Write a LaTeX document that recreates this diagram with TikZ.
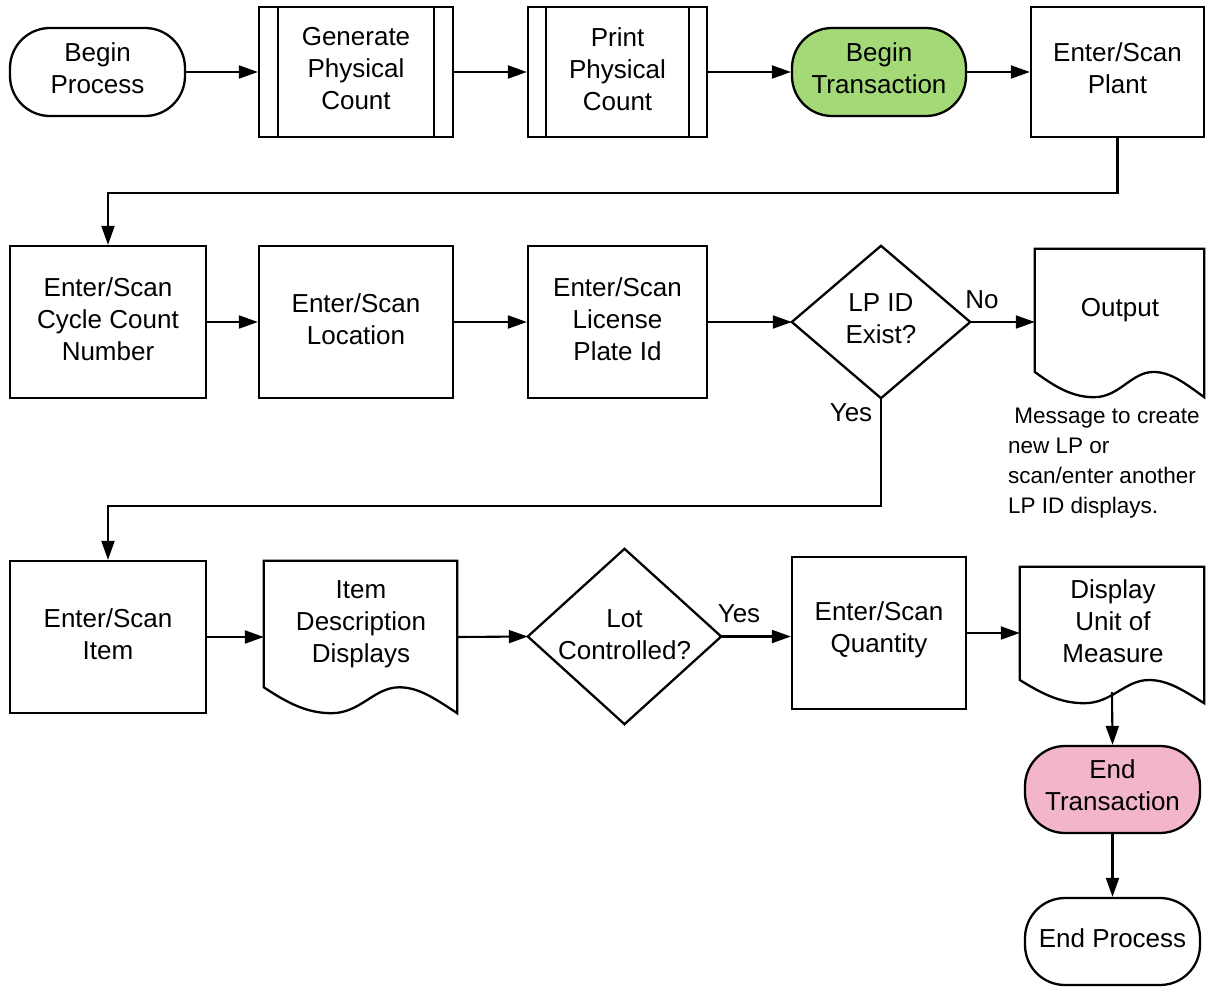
\documentclass[tikz,border=0pt]{standalone}
\usepackage{fontspec}
\setmainfont{Liberation Sans}
\usetikzlibrary{arrows.meta,calc}
\definecolor{startgreen}{HTML}{A3D977}
\definecolor{endpink}{HTML}{F3B5C8}
\newcommand\docoutline[1]{%
 \draw[shapeline] let \p1=(#1.north west), \p2=(#1.south east) in
 (\x1,{\y1+0.83*(\y2-\y1)}) -- (\x1,\y1) -- (\x2,\y1) -- (\x2,\y2)
 .. controls ({\x1+0.88*(\x2-\x1)},{\y1+0.9*(\y2-\y1)}) and ({\x1+0.8*(\x2-\x1)},{\y1+0.83*(\y2-\y1)}) .. ({\x1+0.7*(\x2-\x1)},{\y1+0.83*(\y2-\y1)})
 .. controls ({\x1+0.57*(\x2-\x1)},{\y1+0.83*(\y2-\y1)}) and ({\x1+0.5*(\x2-\x1)},\y2) .. ({\x1+0.35*(\x2-\x1)},\y2)
 .. controls ({\x1+0.22*(\x2-\x1)},\y2) and ({\x1+0.12*(\x2-\x1)},{\y1+0.93*(\y2-\y1)}) .. (\x1,{\y1+0.83*(\y2-\y1)}) -- cycle;}
\begin{document}
\begin{tikzpicture}[x=1pt,y=-1pt,
  txt/.style={font=\fontsize{26}{32}\selectfont, align=center, inner sep=0pt},
  shapeline/.style={line width=2.3pt, line join=miter},
  procbox/.style={draw, shapeline, inner sep=0pt},
  term/.style={draw, shapeline, inner sep=0pt, rounded corners=40pt},
  region/.style={draw=none, inner sep=0pt},
  lbl/.style={font=\fontsize{26}{32}\selectfont, inner sep=0pt},
  notetxt/.style={font=\fontsize{22.5}{30}\selectfont, align=left, inner sep=0pt},
  arr/.style={line width=2.1pt, -{Triangle[length=19pt,width=13pt]}}]
\useasboundingbox (0,0) rectangle (1212,987);

% Row 1
\node[term, minimum width=175pt, minimum height=88pt] (bp) at (97.5,72) {};
\node[txt] (bpT) at ([yshift=4pt]bp.center) {Begin\\Process};
\node[procbox, minimum width=194pt, minimum height=130pt] (gen) at (356,72) {};
\node[txt] (genT) at ([yshift=3pt]gen.center) {Generate\\Physical\\Count};
\draw[shapeline] ([xshift=20pt]gen.north west) -- ([xshift=20pt]gen.south west);
\draw[shapeline] ([xshift=-20pt]gen.north east) -- ([xshift=-20pt]gen.south east);
\node[procbox, minimum width=179pt, minimum height=130pt] (prt) at (617.5,72) {};
\node[txt] (prtT) at ([yshift=3pt]prt.center) {Print\\Physical\\Count};
\draw[shapeline] ([xshift=19pt]prt.north west) -- ([xshift=19pt]prt.south west);
\draw[shapeline] ([xshift=-19pt]prt.north east) -- ([xshift=-19pt]prt.south east);
\node[term, fill=startgreen, minimum width=174pt, minimum height=88pt] (bt) at (879,72) {};
\node[txt] (btT) at ([yshift=4pt]bt.center) {Begin\\Transaction};
\node[procbox, minimum width=173pt, minimum height=130pt] (plant) at (1117.5,72) {};
\node[txt] (plantT) at ([yshift=4pt]plant.center) {Enter/Scan\\Plant};

% Row 2
\node[procbox, minimum width=196pt, minimum height=152pt] (cyc) at (108,322) {};
\node[txt] (cycT) at ([yshift=3pt]cyc.center) {Enter/Scan\\Cycle Count\\Number};
\node[procbox, minimum width=194pt, minimum height=152pt] (loc) at (356,322) {};
\node[txt] (locT) at ([yshift=3pt]loc.center) {Enter/Scan\\Location};
\node[procbox, minimum width=179pt, minimum height=152pt] (lpid) at (617.5,322) {};
\node[txt] (lpidT) at ([yshift=3pt]lpid.center) {Enter/Scan\\License\\Plate Id};
\node[region, minimum width=178pt, minimum height=152pt] (lp) at (881,322) {};
\draw[shapeline] (lp.west) -- (lp.north) -- (lp.east) -- (lp.south) -- cycle;
\node[txt] (lpT) at ([yshift=3pt]lp.center) {LP ID\\Exist?};
\node[region, minimum width=169pt, minimum height=148pt] (out) at (1119.5,323) {};
\docoutline{out}
\node[txt] (outT) at (1120,310) {Output};
\node[notetxt, anchor=west] (note) at (1008,463) {\ Message to create\\new LP or\\scan/enter another\\LP ID displays.};

% Row 3
\node[procbox, minimum width=196pt, minimum height=152pt] (item) at (108,637) {};
\node[txt] (itemT) at ([yshift=3pt]item.center) {Enter/Scan\\Item};
\node[region, minimum width=193pt, minimum height=152pt] (desc) at (360.5,637) {};
\docoutline{desc}
\node[txt] (descT) at (361,624) {Item\\Description\\Displays};
\node[region, minimum width=193pt, minimum height=175pt] (lot) at (624.5,636.5) {};
\draw[shapeline] (lot.west) -- (lot.north) -- (lot.east) -- (lot.south) -- cycle;
\node[txt] (lotT) at ([yshift=2pt]lot.center) {Lot\\Controlled?};
\node[procbox, minimum width=174pt, minimum height=152pt] (qty) at (879,633) {};
\node[txt] (qtyT) at ([yshift=3pt]qty.center) {Enter/Scan\\Quantity};
\node[region, minimum width=184pt, minimum height=136pt] (disp) at (1112,635) {};
\docoutline{disp}
\node[txt] (dispT) at (1113,621) {Display\\Unit of\\Measure};
\node[term, fill=endpink, minimum width=175pt, minimum height=87pt] (et) at (1112.5,789.5) {};
\node[txt] (etT) at ([yshift=4pt]et.center) {End\\Transaction};
\node[term, minimum width=175pt, minimum height=87pt] (ep) at (1112.5,941.5) {};
\node[txt] (epT) at ([yshift=3pt]ep.center) {End Process};

% Labels
\node[lbl] (no) at (982,300) {No};
\node[lbl] (yes1) at (851,413) {Yes};
\node[lbl] (yes2) at (739,614) {Yes};

% Connectors
\draw[arr] (bp.east) -- (gen.west);
\draw[arr] (gen.east) -- (prt.west);
\draw[arr] (prt.east) -- (bt.west);
\draw[arr] (bt.east) -- (plant.west);
\draw[arr] (plant.south) -- ++(0,55) -| (cyc.north);
\draw[arr] (cyc.east) -- (loc.west);
\draw[arr] (loc.east) -- (lpid.west);
\draw[arr] (lpid.east) -- (lp.west);
\draw[arr] (lp.east) -- (lp.east -| out.west);
\draw[arr] (lp.south) -- ++(0,108) -| (item.north);
\draw[arr] (item.east) -- (desc.west);
\draw[arr] (desc.west -| desc.east) -- (lot.west);
\draw[arr] (lot.east) -- (lot.east -| qty.west);
\draw[arr] (qty.east) -- (qty.east -| disp.west);
\draw[arr] ([yshift=11pt]disp.south) -- (et.north);
\draw[arr] (et.south) -- (ep.north);
\end{tikzpicture}
\end{document}
